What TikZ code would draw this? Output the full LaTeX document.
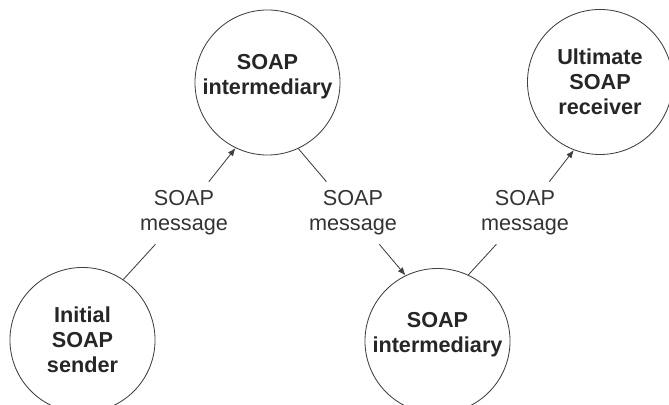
\documentclass[tikz,border=0pt]{standalone}
\usepackage{fontspec}
\setmainfont{Liberation Sans}
\usetikzlibrary{arrows.meta}
\begin{document}
\begin{tikzpicture}[x=0.025cm,y=-0.025cm,
	station/.style={circle,draw=black!75,line width=0.6pt,minimum size=3.625cm,inner sep=0pt,
		align=center,text=black!85,font=\bfseries\fontsize{15.4}{17.8}\selectfont},
	raised/.style={text depth=0.41cm},
	msg/.style={align=center,inner sep=0pt,minimum height=1.55cm,text=black!80,
		font=\fontsize{15.4}{17.8}\selectfont},
	link/.style={draw=black!75,line width=0.6pt},
	flow/.style={link,-{Latex[length=2mm,width=1.6mm]}}]
	\useasboundingbox (0,0) rectangle (669,405);
	\clip (0,0) rectangle (669,405);
	\path
	(82.5,340) node[station] (init) {Initial\\SOAP\\sender}
	(267.5,82.5) node[station,raised] (interA) {SOAP\\intermediary}
	(437.5,341) node[station,raised] (interB) {SOAP\\intermediary}
	(600,82) node[station] (ultimate) {Ultimate\\SOAP\\receiver}
	;
	\foreach \m/\x in {msgA/184,msgB/353,msgC/525}
	\node[msg] (\m) at (\x,213) {SOAP\\message};
	\draw[link] (init.56) -- (msgA);
	\draw[flow] (msgA) -- (interA.-116);
	\draw[link] (interA.-65) -- (msgB);
	\draw[flow] (msgB) -- (interB.116);
	\draw[link] (interB.65) -- (msgC);
	\draw[flow] (msgC) -- (ultimate.-111);
\end{tikzpicture}
\end{document}
